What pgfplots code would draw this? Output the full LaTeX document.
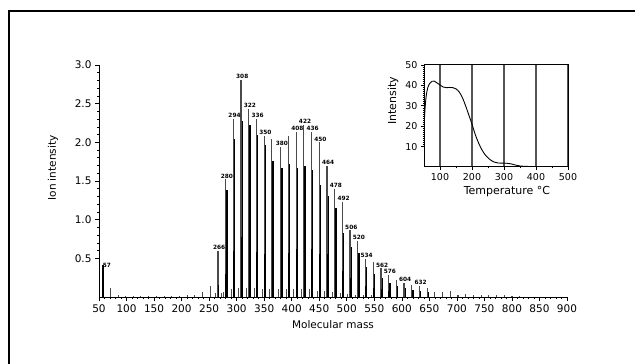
\documentclass[border=0pt]{standalone}
\usepackage{fontspec}
\setmainfont{DejaVu Sans}
\usepackage{pgfplots}
\pgfplotsset{compat=1.18}
\pgfplotsset{/pgf/number format/assume math mode=true}
\definecolor{peakgray}{HTML}{4A4A4A}
\definecolor{gridgray}{HTML}{555555}

\pgfplotstableread{
x y label
266 0.60 266
280 1.52 280
294 2.30 294
308 2.81 308
322 2.43 322
336 2.30 336
350 2.08 350
380 1.94 380
408 2.14 408
422 2.23 422
436 2.14 436
450 2.00 450
464 1.70 464
478 1.40 478
492 1.23 492
506 0.86 506
520 0.73 520
534 0.49 534
562 0.37 562
576 0.29 576
604 0.18 604
632 0.14 632
}\labeled

\pgfplotstableread{
x y
364 2.04
394 2.08
548 0.45
590 0.22
618 0.15
646 0.12
660 0.07
674 0.06
688 0.08
702 0.03
716 0.04
730 0.03
744 0.02
758 0.02
772 0.02
786 0.02
800 0.01
814 0.01
}\unlabeled

\pgfplotstableread{
x y
282 1.38
296 2.04
310 2.27
324 2.22
338 2.09
352 1.96
366 1.76
382 1.67
396 1.72
410 1.67
424 1.70
438 1.64
452 1.45
466 1.30
480 1.15
494 0.83
508 0.65
522 0.57
536 0.39
550 0.30
564 0.24
578 0.18
592 0.14
606 0.11
620 0.09
634 0.08
648 0.06
}\seriesB

\pgfplotstableread{
x y
57 0.42
267 0.16
281 0.30
295 0.60
309 0.78
323 0.65
337 0.58
351 0.56
365 0.52
381 0.52
395 0.57
409 0.62
423 0.68
437 0.62
451 0.56
465 0.55
479 0.40
493 0.33
507 0.25
521 0.20
535 0.14
549 0.12
563 0.10
577 0.08
}\seriesC

\pgfplotstableread{
x y
70 0.11
85 0.03
98 0.01
112 0.01
126 0.01
140 0.01
154 0.01
168 0.01
182 0.015
196 0.015
210 0.02
224 0.03
238 0.06
252 0.14
262 0.05
272 0.05
276 0.06
290 0.10
304 0.12
318 0.12
332 0.12
346 0.10
360 0.10
376 0.10
390 0.10
404 0.10
418 0.10
432 0.10
446 0.08
460 0.08
474 0.06
488 0.05
502 0.04
516 0.03
530 0.03
544 0.03
}\seriesD

\pgfplotstableread{
x y label
57 0.42 57
}\labelA

\pgfplotstableread{
x y
50 19
53 28
57 35
62 39
68 41
75 42
82 42.1
90 41.3
100 40.2
110 39.2
120 38.9
130 39
140 38.9
150 38.3
160 36.8
170 34
180 30
190 25.5
200 21
210 16
220 12
230 8.7
240 6.2
250 4.5
260 3.2
270 2.4
280 2.0
290 1.9
300 1.9
310 1.8
320 1.6
330 1.2
340 0.8
350 0.5
370 0.3
400 0.2
450 0.2
500 0.2
}\tga

\begin{document}
\begin{tikzpicture}[x=1pt,y=1pt]
\useasboundingbox (0,0) rectangle (635,364);
\draw[line width=2pt] (9,-5) -- (9,353) -- (640,353);

\begin{axis}[
  at={(99pt,67pt)}, anchor=south west,
  width=468pt, height=232pt, scale only axis,
  xmin=50, xmax=900, ymin=0, ymax=3,
  axis lines=left, axis line style={-, line width=0.8pt},
  xtick={50,100,...,900}, ytick={0.5,1,1.5,2,2.5,3},
  minor x tick num=4, minor y tick num=4,
  tick align=outside, major tick length=4pt, minor tick length=2pt,
  tick style={black, line width=0.6pt},
  ticklabel style={font=\fontsize{10.5}{12}\selectfont},
  yticklabel style={/pgf/number format/.cd, fixed, fixed zerofill, precision=1},
  clip=false,
]
\addplot[ycomb, draw=peakgray, line width=0.9pt, mark=none] table[x=x,y=y] {\seriesD};
\addplot[ycomb, draw=black, line width=1.6pt, mark=none] table[x=x,y=y] {\seriesB};
\addplot[ycomb, draw=peakgray, line width=1.2pt, mark=none] table[x=x,y=y] {\unlabeled};
\addplot[ycomb, draw=peakgray, line width=1.2pt, mark=none,
  point meta=explicit symbolic,
  nodes near coords,
  nodes near coords style={font=\fontsize{5.8}{6}\selectfont\bfseries, anchor=south, inner sep=0.6pt, xshift=1.2pt, text=black}
] table[x=x,y=y,meta=label] {\labeled};
\addplot[ycomb, draw=black, line width=1.4pt, mark=none] table[x=x,y=y] {\seriesC};
\addplot[draw=none, mark=none,
  point meta=explicit symbolic,
  nodes near coords,
  nodes near coords style={font=\fontsize{5.8}{6}\selectfont\bfseries, anchor=south west, inner sep=0.3pt, xshift=-0.5pt, yshift=-4pt, text=black}
] table[x=x,y=y,meta=label] {\labelA};
\end{axis}

\begin{axis}[
  at={(424pt,197pt)}, anchor=south west,
  width=144pt, height=102pt, scale only axis,
  xmin=50, xmax=500, ymin=0, ymax=50,
  xtick={100,200,300,400,500}, ytick={10,20,30,40,50},
  minor y tick num=9, minor x tick num=1,
  xtick pos=left, ytick pos=left,
  xmajorgrids, major grid style={line width=1.3pt, gridgray},
  axis line style={line width=1pt},
  tick align=outside, major tick length=3pt, minor tick length=1.5pt,
  tick style={black, line width=0.6pt},
  ticklabel style={font=\fontsize{9.5}{11}\selectfont},
]
\addplot[smooth, black, line width=0.9pt, mark=none] table[x=x,y=y] {\tga};
\end{axis}

\node[rotate=90, font=\fontsize{10.5}{12}\selectfont] at (53,196) {Ion intensity};
\node[font=\fontsize{10.5}{12}\selectfont] at (333,39) {Molecular mass};
\node[rotate=90, font=\fontsize{11}{13}\selectfont] at (393,263) {Intensity};
\node[font=\fontsize{11}{13}\selectfont] at (507,172) {Temperature °C};
\end{tikzpicture}
\end{document}
